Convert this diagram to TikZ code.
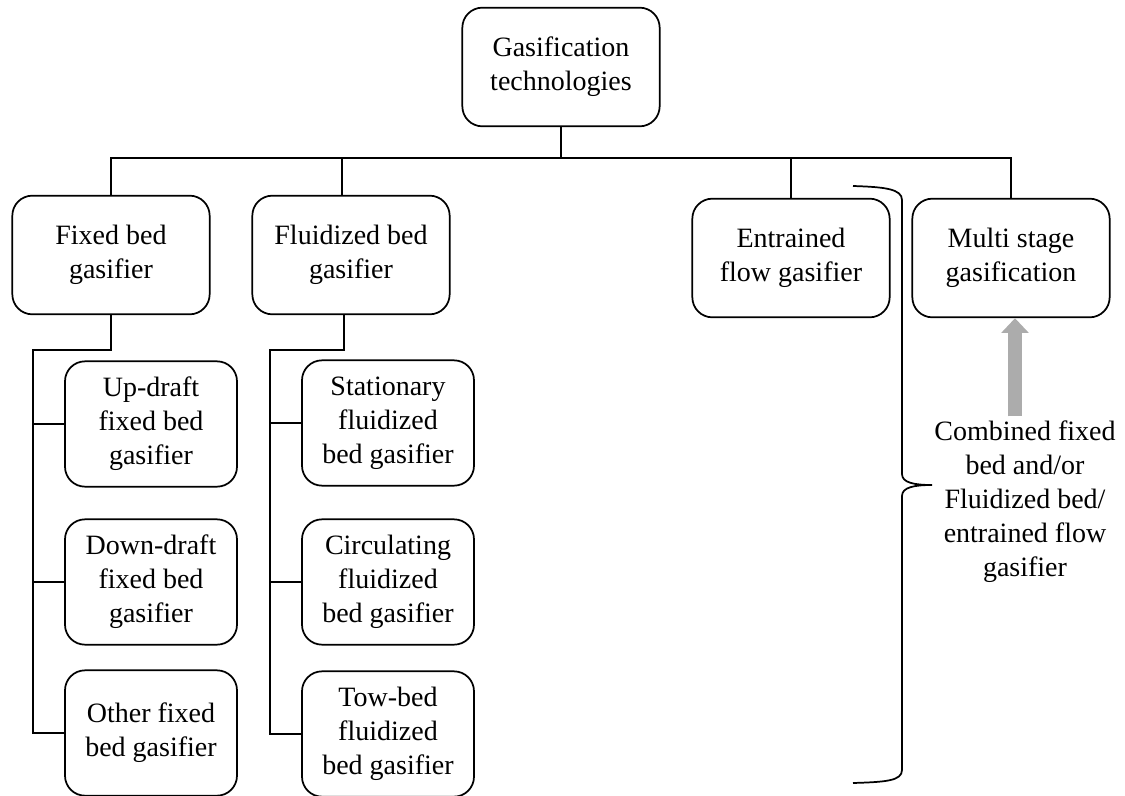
\documentclass[tikz,border=0pt]{standalone}
\usepackage{fontspec}
\setmainfont{Liberation Serif}
\usetikzlibrary{arrows.meta, positioning}

\begin{document}
\begin{tikzpicture}
            [
            x=0.75pt, y=-0.75pt,
            tech/.style={
                rectangle,
                draw,
                line width=1.3pt,
                rounded corners=15pt,
                minimum width=148pt,
                minimum height=89pt,
                align=center,
                font=\fontsize{21}{25.5}\selectfont
            },
            subtech/.style={
                tech,
                minimum width=129pt,
                minimum height=94pt
            },
            link/.style={
                line width=1.3pt
            },
            bigarrow/.style={
                line width=10pt,
                draw=gray!65,
                -{Triangle[width=20pt, length=11pt]}
            }
            ]
            \useasboundingbox (0,0) rectangle (1125,796);

            % top node and the four families
            \node (root) [tech] at (561,67) {Gasification\\technologies};
            \node (fixed) [tech] at (111,255) {Fixed bed\\gasifier};
            \node (fluid) [tech] at (351,255) {Fluidized bed\\gasifier};
            \node (entrained) [tech] at (791,258) {Entrained\\flow gasifier};
            \node (multi) [tech] at (1011,258) {Multi stage\\gasification};

            % fixed bed types
            \node (updraft) [subtech] at (151,424) {Up-draft\\fixed bed\\gasifier};
            \node (downdraft) [subtech] at (151,582) {Down-draft\\fixed bed\\gasifier};
            \node (otherfixed) [subtech] at (151,733) {Other fixed\\bed gasifier};

            % fluidized bed types
            \node (stationary) [subtech] at (388,423) {Stationary\\fluidized\\bed gasifier};
            \node (circulating) [subtech] at (388,582) {Circulating\\fluidized\\bed gasifier};
            \node (towbed) [subtech] at (388,734) {Tow-bed\\fluidized\\bed gasifier};

            \node (combined) [align=center, font=\fontsize{21}{25.5}\selectfont] at (1025,502) {Combined fixed\\bed and/or\\Fluidized bed/\\entrained flow\\gasifier};

            % tree lines
            \coordinate (bus) at (561,158);
            \draw[link] (root.south) -- (bus);
            \draw[link] (bus) -| (fixed.north);
            \draw[link] (bus) -| ([xshift=-7pt]fluid.north);
            \draw[link] (bus) -| (entrained.north);
            \draw[link] (bus) -| (multi.north);

            \coordinate (fixspine) at (33,350);
            \draw[link] (fixed.south) |- (fixspine) |- (otherfixed.west);
            \draw[link] (updraft.west) -- (updraft.west -| fixspine);
            \draw[link] (downdraft.west) -- (downdraft.west -| fixspine);

            \coordinate (fluidspine) at (270,350);
            \draw[link] ([xshift=-5pt]fluid.south) |- (fluidspine) |- (towbed.west);
            \draw[link] (stationary.west) -- (stationary.west -| fluidspine);
            \draw[link] (circulating.west) -- (circulating.west -| fluidspine);

            % brace
            \coordinate (bracetip) at (932,485);
            \draw[link] (853,186) .. controls (885,187) and (902,189) .. (902,200) -- (902,474)
                .. controls (902,483) and (915,485) .. (bracetip)
                .. controls (915,485) and (902,487) .. (902,496) -- (902,770)
                .. controls (902,781) and (885,782) .. (853,783);

            % arrow to multi stage
            \coordinate (arrowtop) at ([xshift=3pt]multi.south);
            \draw[bigarrow] (combined.north -| arrowtop) -- (arrowtop);

        \end{tikzpicture}
\end{document}
